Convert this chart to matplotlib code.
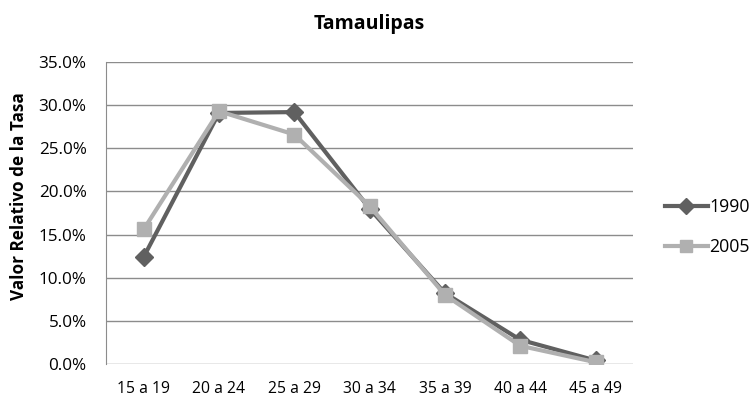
import matplotlib
matplotlib.use("Agg")
import matplotlib.pyplot as plt
from matplotlib.ticker import PercentFormatter

# age groups and relative rates
groups = ["15 a 19", "20 a 24", "25 a 29", "30 a 34", "35 a 39", "40 a 44", "45 a 49"]
tasa_1990 = [12.4, 29.1, 29.2, 18.0, 8.2, 2.8, 0.4]
tasa_2005 = [15.6, 29.3, 26.6, 18.3, 8.0, 2.1, 0.2]

plt.rcParams["font.family"] = ["Open Sans", "DejaVu Sans"]

fig = plt.figure(figsize=(7.52, 4.03), dpi=100)
ax = fig.add_axes([0.141, 0.097, 0.701, 0.749])

x = range(len(groups))
ax.plot(x, tasa_1990, color="#606060", lw=3.0, marker="D", ms=9, label="1990", zorder=3)
ax.plot(x, tasa_2005, color="#b0b0b0", lw=3.0, marker="s", ms=10.5, label="2005", zorder=4)

ax.set_xlim(-0.5, len(groups) - 0.5)
ax.set_ylim(0, 35)
ax.set_yticks([0, 5, 10, 15, 20, 25, 30, 35])
ax.yaxis.set_major_formatter(PercentFormatter(decimals=1))
ax.set_xticks(list(x))
ax.set_xticklabels(groups)
ax.tick_params(axis="both", length=0, colors="black")
ax.tick_params(axis="y", pad=14, labelsize=12.3)
ax.tick_params(axis="x", pad=12, labelsize=11.3)
ax.grid(axis="y", color="#8c8c8c", lw=1)
ax.set_axisbelow(True)
for side in ["top", "right", "bottom"]:
    ax.spines[side].set_visible(False)
ax.spines["left"].set_color("#8c8c8c")

ax.set_ylabel("Valor Relativo de la Tasa", fontsize=12.3, fontweight="bold")
ax.yaxis.set_label_coords(-0.148, 0.556)
ax.set_title("Tamaulipas", fontsize=14, fontweight="bold", pad=24)

ax.legend(loc="center left", bbox_to_anchor=(1.03, 0.454), frameon=False,
          fontsize=12.8, handlelength=2.4, handletextpad=0.1, labelspacing=1.25,
          markerscale=0.85)

fig.savefig("out.png", dpi=100)
